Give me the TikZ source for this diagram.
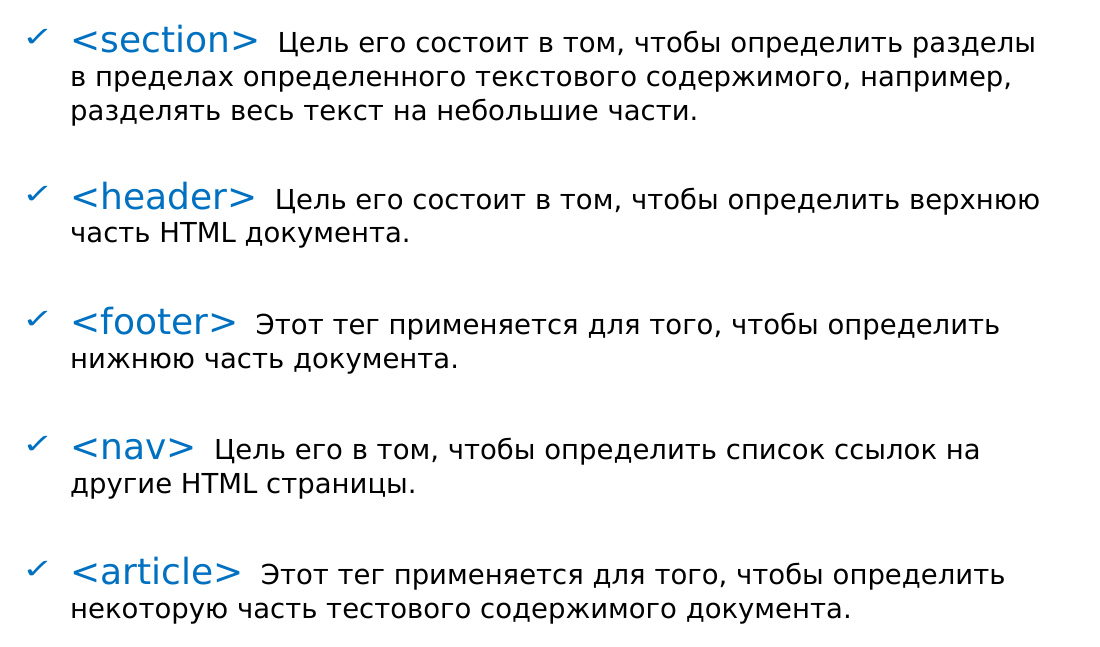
\documentclass[tikz,border=0pt]{standalone}
\usepackage{fontspec}
\usepackage{xcolor}
\usepackage{graphicx}
\setmainfont{DejaVu Sans}
\usetikzlibrary{positioning}

\definecolor{tagblue}{HTML}{0070C0}
\newcommand{\tickmark}{\scalebox{1}[0.72]{✓}}

\tikzset{
  tick/.style={anchor=base west, inner sep=0pt, text=tagblue,
    font=\fontsize{38}{42}\selectfont},
  tagname/.style={anchor=base west, inner sep=0pt, text=tagblue,
    font=\fontsize{36}{40}\selectfont},
  desc/.style={anchor=base west, inner sep=0pt, text=black,
    font=\fontsize{27.5}{34}\selectfont}
}

\begin{document}
\begin{tikzpicture}[x=1pt, y=-1pt]
        \useasboundingbox (0,0) rectangle (1100,646);

        % section
        \node[tick] (c1) at (22,46) {\tickmark};
        \node[tagname] (t1) at (70,52) {<section>};
        \node[desc, right=17pt of t1.base east, anchor=base west] (d1) {Цель его состоит в том, чтобы определить разделы};
        \node[desc] (d1b) at (70,86) {в пределах определенного текстового содержимого, например,};
        \node[desc] (d1c) at (70,120) {разделять весь текст на небольшие части.};

        % header
        \node[tick] (c2) at (22,203) {\tickmark};
        \node[tagname] (t2) at (70,209) {<header>};
        \node[desc, right=17pt of t2.base east, anchor=base west] (d2) {Цель его состоит в том, чтобы определить верхнюю};
        \node[desc] (d2b) at (70,242) {часть HTML документа.};

        % footer
        \node[tick] (c3) at (22,328) {\tickmark};
        \node[tagname] (t3) at (70,334) {<footer>};
        \node[desc, right=17pt of t3.base east, anchor=base west] (d3) {Этот тег применяется для того, чтобы определить};
        \node[desc] (d3b) at (70,368) {нижнюю часть документа.};

        % nav
        \node[tick] (c4) at (22,453) {\tickmark};
        \node[tagname] (t4) at (70,459) {<nav>};
        \node[desc, right=17pt of t4.base east, anchor=base west] (d4) {Цель его в том, чтобы определить список ссылок на};
        \node[desc] (d4b) at (70,493) {другие HTML страницы.};

        % article
        \node[tick] (c5) at (22,578) {\tickmark};
        \node[tagname] (t5) at (70,584) {<article>};
        \node[desc, right=17pt of t5.base east, anchor=base west] (d5) {Этот тег применяется для того, чтобы определить};
        \node[desc] (d5b) at (70,618) {некоторую часть тестового содержимого документа.};
      \end{tikzpicture}
\end{document}
